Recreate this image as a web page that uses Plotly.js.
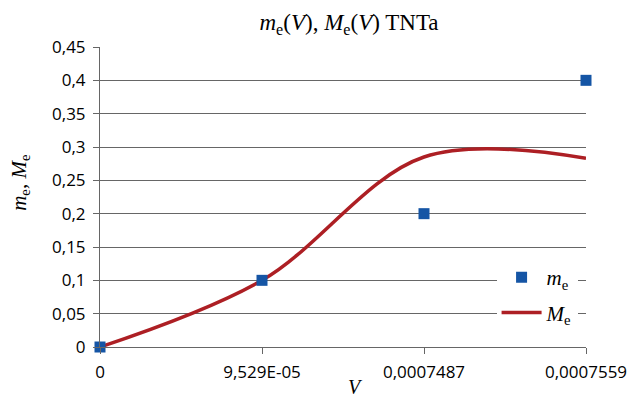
<!DOCTYPE html>
<html><head><meta charset="utf-8">
<script src="https://cdn.plot.ly/plotly-3.0.1.min.js"></script>
<style>html,body{margin:0;padding:0;background:#fff}#chart{width:630px;height:397px}</style>
</head><body><div id="chart"></div>
<script>
const categories = ["0", "9,529E-05", "0,0007487", "0,0007559"];
const mE = [0, 0.1, 0.2, 0.4];
const ME = [0, 0.1, 0.285, 0.283];

const traces = [
  {x: categories, y: ME, type: 'scatter', mode: 'lines', name: '<i>M</i><sub>e</sub>', legendgroup: 'b',
   line: {color: '#AD1F24', width: 3.5, shape: 'spline', smoothing: 1}, legendrank: 2, cliponaxis: false},
  {x: categories, y: mE, type: 'scatter', mode: 'markers', name: '<i>m</i><sub>e</sub>', legendgroup: 'a',
   marker: {symbol: 'square', size: 11, color: '#1555A5'}, legendrank: 1, cliponaxis: false}
];

const serif = 'Liberation Serif, serif';
const layout = {
  width: 630, height: 397,
  margin: {l: 100, r: 44, t: 47, b: 50},
  paper_bgcolor: '#fff', plot_bgcolor: '#fff',
  separators: ', ',
  font: {family: 'Open Sans, Liberation Sans, sans-serif', size: 17, color: '#000'},
  title: {text: '<i>m</i><sub>e</sub>(<i>V</i>), <i>M</i><sub>e</sub>(<i>V</i>) TNTa',
          font: {family: serif, size: 23, color: '#000'},
          x: 0.554, xanchor: 'center', y: 0.945, yanchor: 'middle'},
  xaxis: {type: 'category', range: [0, 3], showgrid: false, zeroline: false,
          showline: true, linecolor: '#666', linewidth: 1,
          ticks: 'outside', ticklen: 6, tickcolor: '#666', ticklabelstandoff: 4,
          tickfont: {family: 'Open Sans, sans-serif', size: 17, color: '#000'}},
  yaxis: {range: [0, 0.45], dtick: 0.05, tick0: 0, showgrid: true, gridcolor: '#666', gridwidth: 1,
          zeroline: false, showline: true, linecolor: '#666', linewidth: 1,
          ticks: 'outside', ticklen: 6, tickcolor: '#666', ticklabelstandoff: 4,
          tickfont: {family: 'Open Sans, sans-serif', size: 17, color: '#000'}},
  annotations: [
    {text: '<i>m</i><sub>e</sub>, <i>M</i><sub>e</sub>', xref: 'paper', yref: 'paper',
     x: -0.165, y: 0.55, xanchor: 'center', yanchor: 'middle', textangle: -90, showarrow: false,
     font: {family: serif, size: 21, color: '#000'}},
    {text: '<i>V</i>', xref: 'paper', yref: 'paper', x: 0.526, y: -0.132,
     xanchor: 'center', yanchor: 'middle', showarrow: false,
     font: {family: serif, size: 20, color: '#000'}}
  ],
  legend: {x: 0.816, y: 0.30, xanchor: 'left', yanchor: 'top', bgcolor: '#fff',
           font: {family: serif, size: 21, color: '#000'}, itemwidth: 40, tracegroupgap: 5},
  showlegend: true
};
Plotly.newPlot('chart', traces, layout, {displayModeBar: false, staticPlot: true});
</script></body></html>
